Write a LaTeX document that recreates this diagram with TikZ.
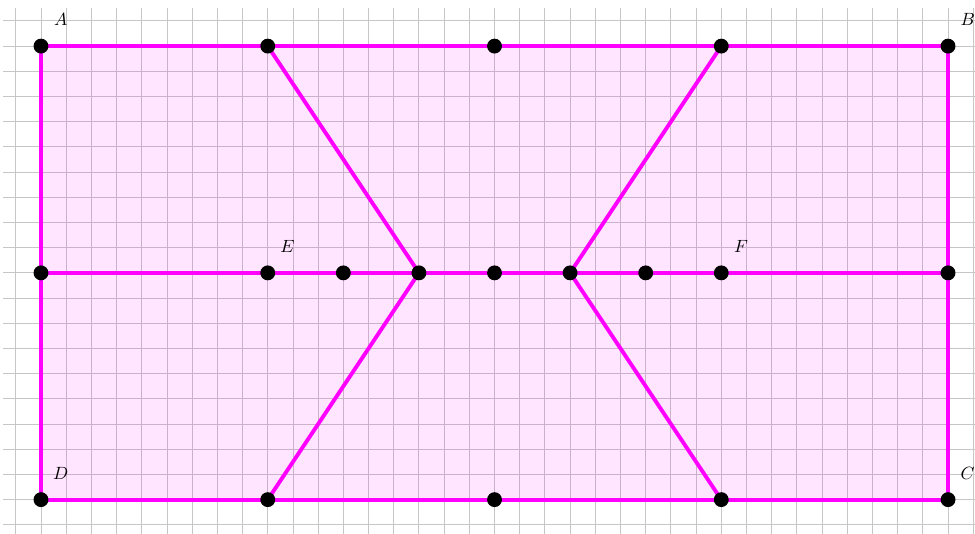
\documentclass[tikz,border=0pt]{standalone}
\usetikzlibrary{calc}
\definecolor{mag}{RGB}{255,0,255}
\begin{document}
\begin{tikzpicture}[x=0.5cm,y=0.5cm,
  seg/.style={mag,line width=2.2pt},
  dot/.style={circle,fill=black,inner sep=0pt,minimum size=8.4pt},
  lbl/.style={inner sep=0pt,font=\normalsize}]
\useasboundingbox (-1.627,-1.35) rectangle (37.07,19.83);
\draw[gray!45,line width=0.5pt,step=0.5cm] (-1.5,-1.5) grid (37.5,19.5);
% corner coordinates
\coordinate (A) at (0,18);
\coordinate (B) at (36,18);
\coordinate (C) at (36,0);
\coordinate (D) at (0,0);
\coordinate (T1) at (9,18);
\coordinate (T2) at (18,18);
\coordinate (T3) at (27,18);
\coordinate (B1) at (9,0);
\coordinate (B2) at (18,0);
\coordinate (B3) at (27,0);
\coordinate (ML) at (0,9);
\coordinate (MR) at (36,9);
\coordinate (E) at (9,9);
\coordinate (M1) at (12,9);
\coordinate (P) at (15,9);
\coordinate (M2) at (18,9);
\coordinate (Q) at (21,9);
\coordinate (M3) at (24,9);
\coordinate (F) at (27,9);
\fill[mag,fill opacity=0.1] (A) -- (B) -- (C) -- (D) -- cycle;
\draw[seg,line join=miter] (A) -- (B) -- (C) -- (D) -- cycle;
\draw[seg] (ML) -- (MR);
\draw[seg] (T1) -- (P) -- (B1);
\draw[seg] (T3) -- (Q) -- (B3);
\foreach \p in {A,B,C,D,T1,T2,T3,B1,B2,B3,ML,MR,E,M1,P,M2,Q,M3,F}
  \node[dot] (d\p) at (\p) {};
\node[lbl] (lA) at ($(A)+(0.78,1.05)$) {$A$};
\node[lbl] (lB) at ($(B)+(0.78,1.05)$) {$B$};
\node[lbl] (lC) at ($(C)+(0.78,1.05)$) {$C$};
\node[lbl] (lD) at ($(D)+(0.78,1.05)$) {$D$};
\node[lbl] (lE) at ($(E)+(0.78,1.05)$) {$E$};
\node[lbl] (lF) at ($(F)+(0.78,1.05)$) {$F$};
\end{tikzpicture}
\end{document}
